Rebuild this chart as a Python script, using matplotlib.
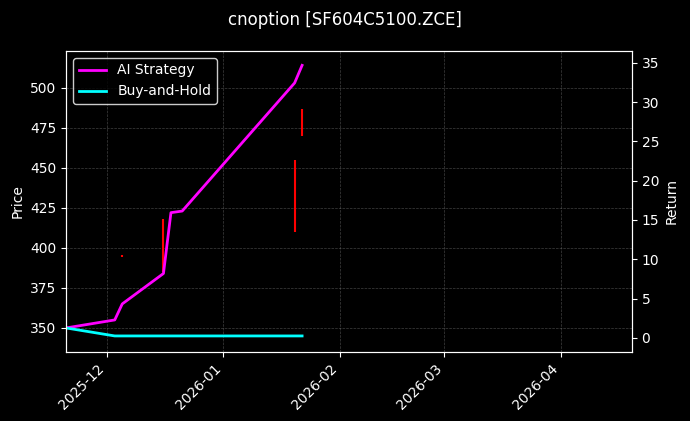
import matplotlib
matplotlib.use("Agg")
import matplotlib.pyplot as plt
import matplotlib.dates as mdates
import pandas as pd

line_dates = pd.to_datetime(["2025-11-20", "2025-12-03", "2025-12-05", "2025-12-16", "2025-12-18",
                             "2025-12-21", "2026-01-20", "2026-01-22"])
ai_strategy = [350, 355, 365, 384, 422, 423, 503, 514]
buy_hold = [350, 345, 345, 345, 345, 345, 345, 345]

candle_dates = pd.to_datetime(["2025-12-05", "2025-12-16", "2026-01-20", "2026-01-22"])
candle_low = [394.5, 385, 410, 470]
candle_high = [395.5, 418, 455, 487]

fig = plt.figure(figsize=(6.9, 4.21), dpi=100, facecolor="black")
ax = fig.add_axes([0.0957, 0.164, 0.82, 0.715], facecolor="black")
ax.vlines(candle_dates, candle_low, candle_high, colors="red", linewidth=1.5)
ax.plot(line_dates, ai_strategy, color="#ff00ff", linewidth=2, label="AI Strategy")
ax.plot(line_dates, buy_hold, color="#00ffff", linewidth=2, label="Buy-and-Hold")
ax.set_ylim(335, 523)
ax.set_xlim(pd.Timestamp("2025-11-20"), pd.Timestamp("2026-04-20"))
ax.xaxis.set_major_locator(mdates.MonthLocator())
ax.xaxis.set_major_formatter(mdates.DateFormatter("%Y-%m"))
ax.set_yticks([350, 375, 400, 425, 450, 475, 500])
ax.grid(True, color="gray", linestyle="--", linewidth=0.5, alpha=0.5)
ax.set_ylabel("Price", color="white")
for s in ax.spines.values():
    s.set_color("white")
ax.tick_params(colors="white")
plt.setp(ax.get_xticklabels(), rotation=45, ha="right")

ax2 = ax.twinx()
ax2.set_ylim(-1.8, 36.5)
ax2.set_yticks([0, 5, 10, 15, 20, 25, 30, 35])
ax2.set_ylabel("Return", color="white")
ax2.tick_params(colors="white")
for s in ax2.spines.values():
    s.set_color("white")

leg = ax.legend(loc="upper left", facecolor="black", edgecolor="white", labelcolor="white")
fig.suptitle("cnoption [SF604C5100.ZCE]", color="white", fontsize=12, y=0.975)
fig.savefig("out.png", dpi=100, facecolor="black")
